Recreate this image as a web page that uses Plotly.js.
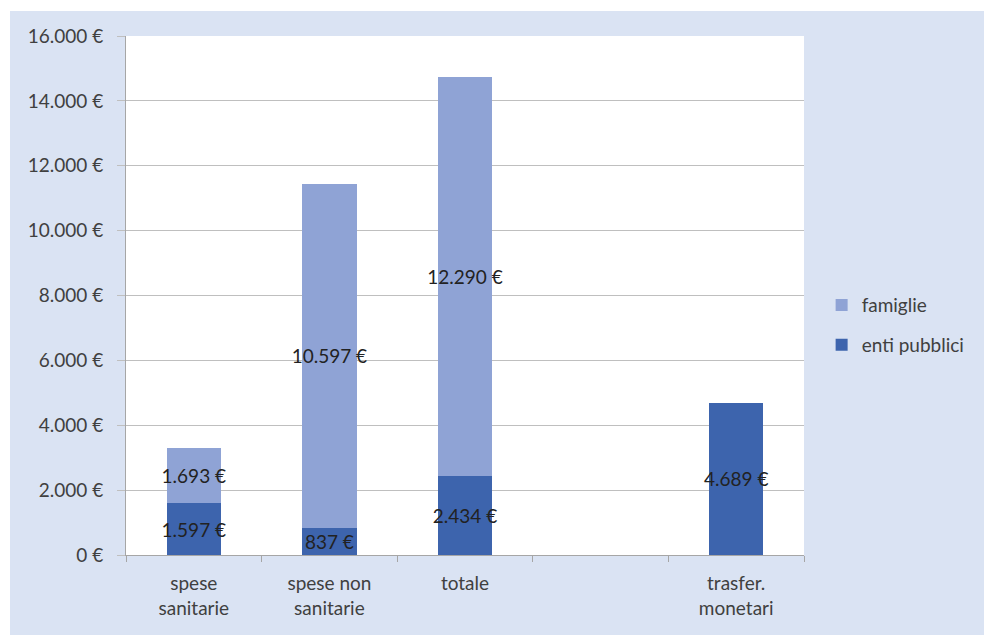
<!DOCTYPE html>
<html>
<head>
<meta charset="utf-8">
<script src="https://cdn.plot.ly/plotly-3.0.1.min.js"></script>
<style>
  html, body { margin: 0; padding: 0; background: #ffffff; }
  #wrap { position: absolute; left: 10px; top: 11px; width: 974px; height: 624px;
          border-left: 2px solid #a8b8d8; border-top: 2px solid #a8b8d8; box-sizing: border-box; }
  #chart { position: absolute; left: -2px; top: -2px; width: 974px; height: 624px; }
</style>
</head>
<body>
<div id="wrap"><div id="chart"></div></div>
<script>
const categories = ["spese<br>sanitarie", "spese non<br>sanitarie", "totale", " ", "trasfer.<br>monetari"];
const entiPubblici = [1597, 837, 2434, null, 4689];
const famiglie = [1693, 10597, 12290, null, null];
const yMax = 16000;
const yStep = 2000;

const fontFam = "Lato, 'Open Sans', sans-serif";

const common = {
  type: 'bar',
  x: categories,
  textposition: 'inside',
  insidetextanchor: 'middle',
  textangle: 0,
  constraintext: 'none',
  texttemplate: '%{y:,.0f} €',
  textfont: { family: fontFam, size: 19, color: '#222222' },
  hoverinfo: 'none'
};

const traces = [
  Object.assign({}, common, {
    name: 'enti pubblici', y: entiPubblici, legendgroup: 'a', legendrank: 2,
    marker: { color: '#3d64ad', line: { width: 0 } }
  }),
  Object.assign({}, common, {
    name: 'famiglie', y: famiglie, legendgroup: 'b', legendrank: 1,
    marker: { color: '#8fa3d5', line: { width: 0 } }
  })
];

const layout = {
  width: 974, height: 624,
  separators: ',.',
  barmode: 'stack',
  bargap: 0.6,
  paper_bgcolor: '#dae3f3',
  plot_bgcolor: '#ffffff',
  margin: { l: 116, r: 180, t: 25, b: 80 },
  font: { family: fontFam, size: 19, color: '#404040' },
  xaxis: {
    type: 'category',
    categoryorder: 'array', categoryarray: categories,
    showline: true, linecolor: '#a6a6a6', linewidth: 1,
    ticks: 'outside', tickson: 'boundaries', ticklen: 6, tickcolor: '#a6a6a6',
    ticklabelstandoff: 11,
    tickfont: { family: fontFam, size: 19, color: '#404040' },
    showgrid: false, zeroline: false, fixedrange: true
  },
  yaxis: {
    range: [0, yMax],
    tickmode: 'linear', tick0: 0, dtick: yStep,
    tickformat: ',.0f', ticksuffix: ' €', showticksuffix: 'all',
    showline: true, linecolor: '#a6a6a6', linewidth: 1,
    ticks: 'outside', ticklen: 8, tickcolor: '#bfbfbf',
    ticklabelstandoff: 10,
    showgrid: true, gridcolor: '#bfbfbf', gridwidth: 1,
    zeroline: false,
    tickfont: { family: fontFam, size: 19, color: '#404040' },
    fixedrange: true
  },
  showlegend: true,
  legend: {
    x: 1.026, xanchor: 'left',
    y: 0.443, yanchor: 'middle',
    traceorder: 'grouped',
    tracegroupgap: 12,
    bgcolor: 'rgba(0,0,0,0)',
    font: { family: fontFam, size: 19, color: '#404040' }
  }
};

Plotly.newPlot('chart', traces, layout, { displayModeBar: false, staticPlot: true });
</script>
</body>
</html>
